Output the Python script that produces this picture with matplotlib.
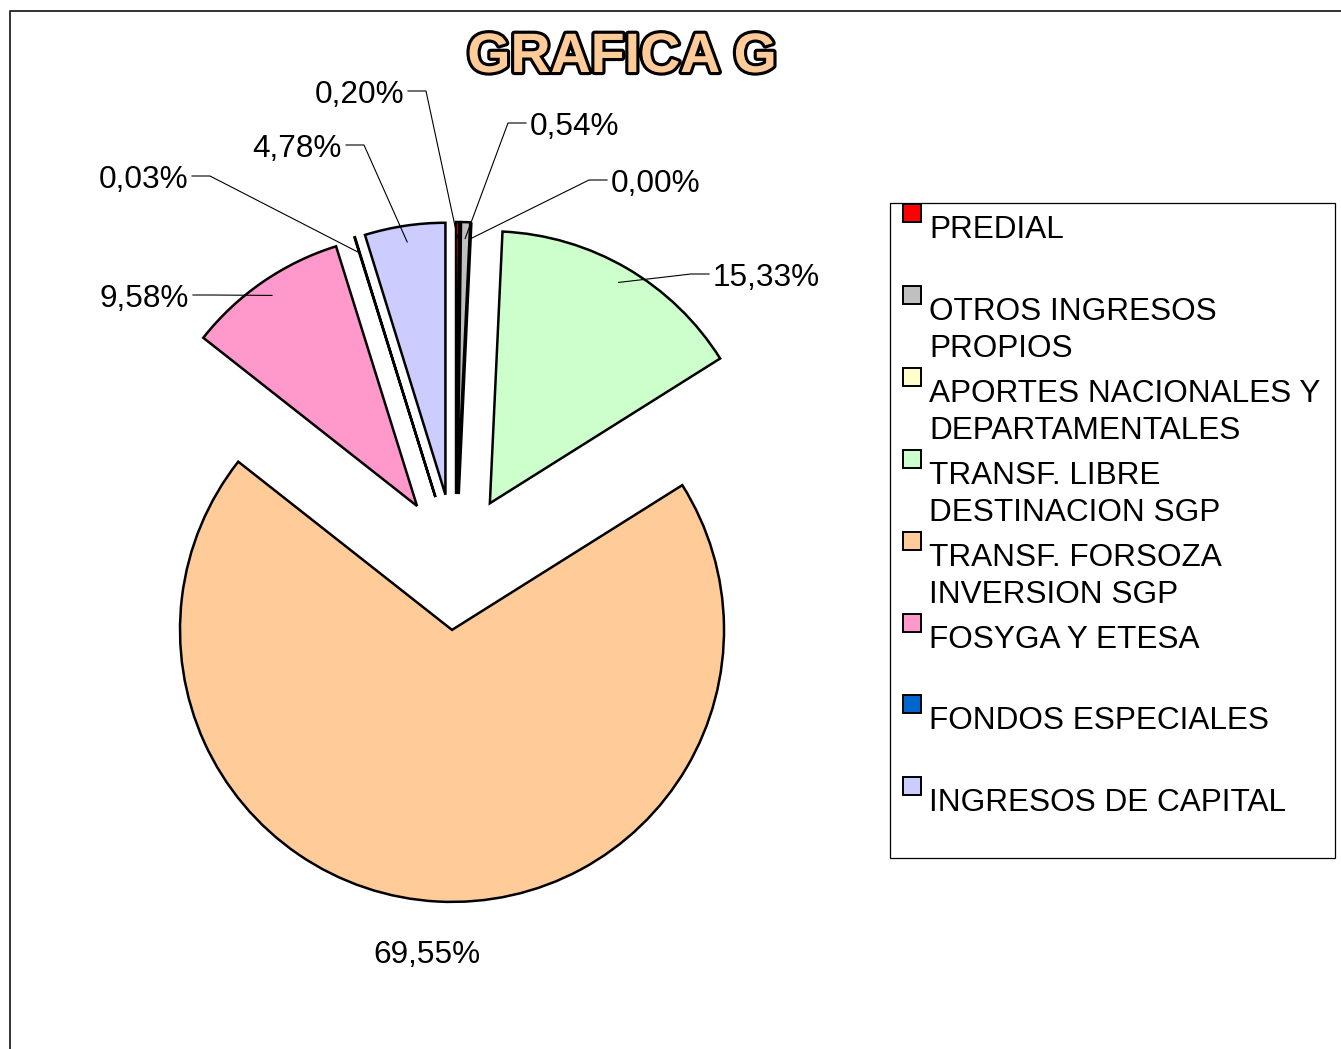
import matplotlib
matplotlib.use('Agg')
import matplotlib.pyplot as plt
import matplotlib.patches as patches
import matplotlib.patheffects as pe
import numpy as np

# datos de la grafica
categorias = ['PREDIAL', 'OTROS INGRESOS\nPROPIOS', 'APORTES NACIONALES Y\nDEPARTAMENTALES',
              'TRANSF. LIBRE\nDESTINACION SGP', 'TRANSF. FORSOZA\nINVERSION SGP',
              'FOSYGA Y ETESA', 'FONDOS ESPECIALES', 'INGRESOS DE CAPITAL']
porcentajes = [0.20, 0.54, 0.00, 15.33, 69.55, 9.58, 0.03, 4.78]
colores = ['#FF0000', '#C0C0C0', '#FFFFCC', '#CCFFCC', '#FFCC99', '#FF99CC', '#0066CC', '#CCCCFF']

# posicion de las etiquetas (x, linea base, alineacion)
pos_etiquetas = [(404, 103, 'right'), (530, 135, 'left'), (611, 192, 'left'),
                 (713, 286, 'left'), (427, 963, 'center'), (189, 307, 'right'),
                 (188, 188, 'right'), (342, 157, 'right')]

FUENTE = 'Liberation Sans'
TAM = 22.7
RADIO = 272
SEPARACION = 0.25 * RADIO  # explode de matplotlib va en unidades de datos

fig = plt.figure(figsize=(13.41, 10.49), dpi=100)
ax = fig.add_axes([0, 0, 1, 1])

# ejes en pixeles, y hacia abajo: angulos crecientes = sentido horario
wedges, _ = ax.pie(porcentajes, colors=colores, explode=[SEPARACION] * len(porcentajes),
                   startangle=-90, counterclock=True, normalize=True,
                   center=(455.6, 562), radius=RADIO,
                   wedgeprops=dict(edgecolor='black', linewidth=1.8))
ax.set_xlim(0, 1341)
ax.set_ylim(1049, 0)
ax.set_aspect('auto')
ax.axis('off')

# etiquetas con lineas guia
for w, v, (tx, ty, ha) in zip(wedges, porcentajes, pos_etiquetas):
    texto = ('%.2f%%' % v).replace('.', ',')
    ax.text(tx, ty, texto, ha=ha, va='baseline', fontsize=TAM, family=FUENTE, color='black')
    if ha == 'center':
        continue
    mid = np.deg2rad((w.theta1 + w.theta2) / 2)
    cx, cy = w.center
    ancla = (cx + 0.94 * w.r * np.cos(mid), cy + 0.94 * w.r * np.sin(mid))
    yl = ty - 12
    if ha == 'right':
        ini, codo = tx + 4, tx + 22
    else:
        ini, codo = tx - 4, tx - 22
    ax.plot([ini, codo, ancla[0]], [yl, yl, ancla[1]], color='black', lw=0.8,
            solid_joinstyle='miter')

# leyenda
ax.add_patch(patches.Rectangle((890, 203), 445, 655, facecolor='none',
                               edgecolor='black', linewidth=0.9))
paso = 81.9
for i, (cat, col) in enumerate(zip(categorias, colores)):
    base = 238 + i * paso
    ax.add_patch(patches.Rectangle((903, base - 34), 18, 18, facecolor=col,
                                   edgecolor='black', linewidth=1.4))
    for j, linea in enumerate(cat.split('\n')):
        ax.text(929, base + j * 37.5, linea, ha='left', va='baseline',
                fontsize=TAM, family=FUENTE, color='black')

# titulo
ax.text(622, 58, 'GRAFICA G', ha='center', va='center', fontsize=40,
        family=FUENTE, weight='bold', color='#FFCC99',
        path_effects=[pe.Stroke(linewidth=4.5, foreground='black'), pe.Normal()])

# marco del area del grafico
ax.plot([10, 10, 1341], [1049, 11, 11], color='#222222', lw=1.3)

fig.savefig('out.png', dpi=100)
